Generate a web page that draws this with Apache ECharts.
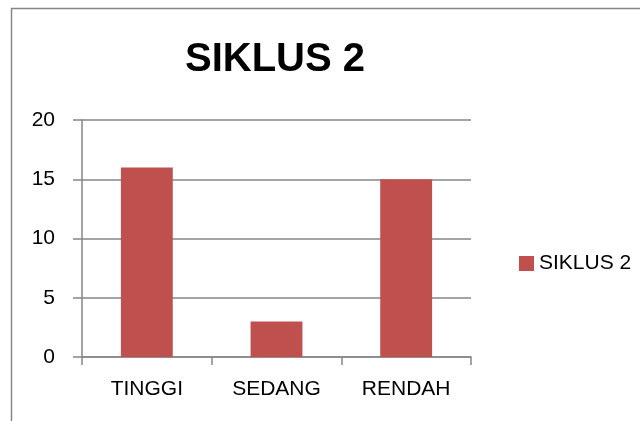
<!DOCTYPE html>
<html>
<head>
<meta charset="utf-8">
<script src="https://cdn.jsdelivr.net/npm/echarts@6/dist/echarts.min.js"></script>
<style>
  html, body { margin: 0; padding: 0; background: #fff; }
  #chart { width: 640px; height: 421px; }
</style>
</head>
<body>
<div id="chart"></div>
<script>
var categories = ['TINGGI', 'SEDANG', 'RENDAH'];
var siklus2 = [16, 3, 15];
var seriesName = 'SIKLUS 2';

var chart = echarts.init(document.getElementById('chart'));
var font = 'Liberation Sans';
var option = {
    animation: false,
    title: {
        text: 'SIKLUS 2',
        left: 180,
        top: 35,
        textStyle: {
            fontFamily: font,
            fontWeight: 'bold',
            fontSize: 40,
            color: '#000'
        }
    },
    graphic: [{
        type: 'rect',
        shape: { x: 11.5, y: 8.5, width: 700, height: 500 },
        style: { fill: 'none', stroke: '#868686', lineWidth: 1.5 },
        silent: true
    }],
    legend: {
        data: [seriesName],
        left: 514,
        top: 248,
        itemWidth: 15,
        itemHeight: 15,
        itemGap: 7,
        icon: 'rect',
        textStyle: { fontFamily: font, fontSize: 21, color: '#000' }
    },
    grid: {
        left: 82,
        right: 169,
        top: 120,
        bottom: 64
    },
    xAxis: {
        type: 'category',
        data: categories,
        axisLine: { lineStyle: { color: '#868686', width: 1.5 } },
        axisTick: { show: true, length: 8, alignWithLabel: false, lineStyle: { color: '#868686', width: 1.5 } },
        axisLabel: { fontFamily: font, fontSize: 21, color: '#000', margin: 22 }
    },
    yAxis: {
        type: 'value',
        min: 0,
        max: 20,
        interval: 5,
        axisLine: { show: true, lineStyle: { color: '#868686', width: 1.5 } },
        axisTick: { show: true, length: 9, lineStyle: { color: '#868686', width: 1.5 } },
        axisLabel: { fontFamily: font, fontSize: 21, color: '#000', margin: 27 },
        splitLine: { lineStyle: { color: '#868686', width: 1.5 } }
    },
    series: [{
        name: seriesName,
        type: 'bar',
        data: siklus2,
        barWidth: '40%',
        itemStyle: { color: '#C0504D' }
    }]
};
chart.setOption(option);
</script>
</body>
</html>
